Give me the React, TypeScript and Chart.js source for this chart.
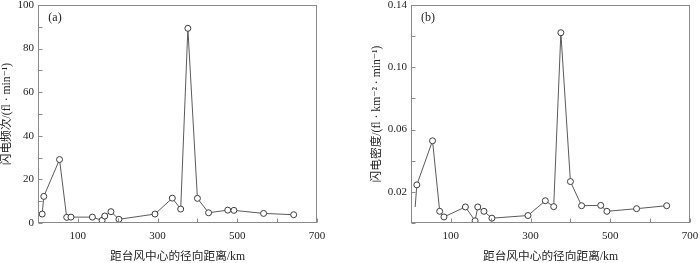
import React, { useEffect, useRef } from 'react';
import { Chart, registerables } from 'chart.js';

Chart.register(...registerables);

// radial distance from typhoon centre (km)
const distance = [10.5, 14.6, 54, 72, 82.7, 136.5, 160.8, 167.5, 183, 203, 293.5, 337, 358, 376, 400, 428, 476, 491.5, 566, 641.5];
// (a) lightning frequency (fl/min)
const frequency = [4.1, 12.2, 29.1, 2.6, 2.7, 2.7, 1.2, 3.2, 5.2, 1.7, 4.1, 11.4, 6.4, 89.3, 11.3, 4.7, 5.9, 5.8, 4.4, 3.8];
// (b) lightning density (fl/km2/min)
const density = [0.0103, 0.0245, 0.0528, 0.0075, 0.0039, 0.0103, 0.0014, 0.0103, 0.0075, 0.0031, 0.0048, 0.0143, 0.0105, 0.1222, 0.0266, 0.0111, 0.0113, 0.0075, 0.0092, 0.0111];

const xTickLabels = [100, 300, 500, 700];
const freqTickLabels = [0, 20, 40, 60, 80, 100];
const densityTickLabels = [0.02, 0.06, 0.1, 0.14];

const xTitle = '距台风中心的径向距离/km';
const freqTitle = '闪电频次/(fl · min⁻¹)';
const densityTitle = '闪电密度/(fl · km⁻² · min⁻¹)';

const FONT = '"Liberation Serif", "DejaVu Serif", "Noto Sans CJK SC", serif';
const TEXT = '#222';

const framePlugin = {
  id: 'frame',
  afterDraw(chart: any, _args: any, opts: any) {
    const { ctx, chartArea: a, scales } = chart;
    ctx.save();
    ctx.strokeStyle = '#8a8a8a';
    ctx.lineWidth = 1;
    const L = Math.round(a.left) + 0.5;
    const R = Math.round(a.right) - 0.5;
    const T = Math.round(a.top) + 0.5;
    const B = Math.round(a.bottom) - 0.5;
    ctx.strokeRect(L, T, R - L, B - T);
    ctx.beginPath();
    const xs = scales.x;
    xs.ticks.forEach((t: any) => {
      const px = Math.round(xs.getPixelForValue(t.value)) + 0.5;
      ctx.moveTo(px, B);
      ctx.lineTo(px, B - 4);
    });
    const ys = scales.y;
    ys.ticks.forEach((t: any) => {
      const py = Math.round(ys.getPixelForValue(t.value)) + 0.5;
      ctx.moveTo(L, py);
      ctx.lineTo(L + 4, py);
    });
    ctx.stroke();
    ctx.fillStyle = TEXT;
    ctx.font = `12px ${FONT}`;
    ctx.textAlign = 'center';
    ctx.textBaseline = 'middle';
    ctx.fillText(opts.label, a.left + 17, a.top + 13);
    ctx.restore();
  },
};

function makeConfig(values: number[], opts: any): any {
  return {
    type: 'line',
    data: {
      datasets: [
        {
          data: distance.map((x, i) => ({ x, y: values[i] })),
          borderColor: '#5a5a5a',
          borderWidth: 1,
          tension: 0,
          pointRadius: values.map((_, i) => (opts.hideFirst && i === 0 ? 0 : 3)),
          pointBackgroundColor: '#ffffff',
          pointBorderColor: '#3c3c3c',
          pointBorderWidth: 1,
        },
      ],
    },
    options: {
      responsive: false,
      animation: false,
      devicePixelRatio: 1,
      layout: { padding: { top: opts.top, right: opts.right, left: 0, bottom: 0 } },
      plugins: {
        legend: { display: false },
        tooltip: { enabled: false },
        frame: { label: opts.label },
      },
      scales: {
        x: {
          type: 'linear',
          min: 0,
          max: 700,
          grid: { display: false, drawTicks: false },
          border: { display: false },
          ticks: {
            stepSize: 100,
            autoSkip: false,
            maxRotation: 0,
            padding: 7,
            color: TEXT,
            font: { family: FONT, size: 11 },
            callback: (v: number) => (xTickLabels.includes(v) ? String(v) : ''),
          },
          title: {
            display: true,
            text: xTitle,
            color: TEXT,
            font: { family: FONT, size: 11.7, lineHeight: 1 },
            padding: { top: 0, bottom: 0 },
          },
          afterFit: (s: any) => {
            s.height = 40;
            s.paddingLeft = 0;
            s.paddingRight = 0;
          },
        },
        y: {
          type: 'linear',
          min: 0,
          max: opts.max,
          grid: { display: false, drawTicks: false },
          border: { display: false },
          ticks: {
            stepSize: opts.step,
            autoSkip: false,
            padding: 4,
            color: TEXT,
            font: { family: FONT, size: 11 },
            callback: opts.tickCb,
          },
          title: {
            display: true,
            text: opts.title,
            color: TEXT,
            font: { family: FONT, size: 11.7, lineHeight: 1 },
            padding: { top: opts.titlePad, bottom: 0 },
          },
          afterFit: (s: any) => {
            s.width = opts.yWidth;
            s.paddingTop = 0;
            s.paddingBottom = 0;
          },
        },
      },
    },
    plugins: [framePlugin],
  };
}

function Panel({ config }: { config: any }) {
  const ref = useRef<HTMLCanvasElement | null>(null);
  useEffect(() => {
    if (!ref.current) return;
    const chart = new Chart(ref.current, config);
    return () => chart.destroy();
  }, [config]);
  return <canvas ref={ref} width={350} height={263} style={{ display: 'block', width: 350, height: 263 }} />;
}

const configA = makeConfig(frequency, {
  label: '(a)',
  max: 100,
  step: 10,
  top: 3,
  right: 33,
  yWidth: 38,
  titlePad: 1,
  title: freqTitle,
  tickCb: (v: number) => (freqTickLabels.includes(v) ? String(v) : ''),
});

const configB = makeConfig(density, {
  label: '(b)',
  max: 0.14,
  step: 0.02,
  top: 2,
  right: 10,
  yWidth: 61,
  titlePad: 21,
  title: densityTitle,
  hideFirst: true,
  tickCb: (v: number) =>
    densityTickLabels.some((d) => Math.abs(d - v) < 1e-6) ? v.toFixed(2) : '',
});

export default function App() {
  return (
    <div style={{ position: 'fixed', left: 0, top: 0, width: 700, height: 263, display: 'flex', background: '#fff' }}>
      <Panel config={configA} />
      <Panel config={configB} />
    </div>
  );
}
